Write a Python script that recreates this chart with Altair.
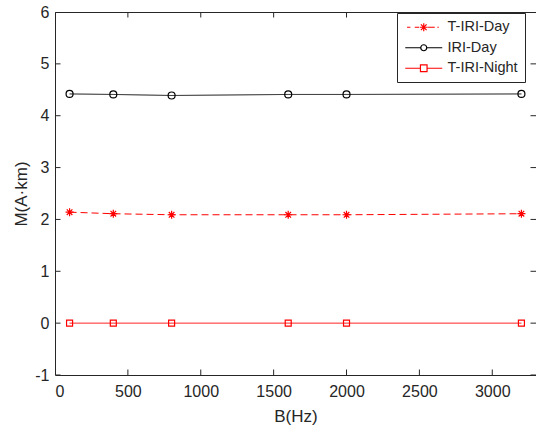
import altair as alt
import pandas as pd

# ---- data ----
B = [100, 400, 800, 1600, 2000, 3200]
t_iri_day = [2.14, 2.11, 2.09, 2.09, 2.09, 2.11]
iri_day = [4.42, 4.41, 4.39, 4.41, 4.41, 4.42]
t_iri_night = [0.0, 0.0, 0.0, 0.0, 0.0, 0.0]

series = ["T-IRI-Day", "IRI-Day", "T-IRI-Night"]
colors = ["#ff0000", "#000000", "#ff0000"]
x_ticks = [0, 500, 1000, 1500, 2000, 2500, 3000]
y_ticks = [-1, 0, 1, 2, 3, 4, 5, 6]
x_domain = [0, 3300]
y_domain = [-1, 6]

rows = []
for name, vals in zip(series, [t_iri_day, iri_day, t_iri_night]):
    for b, v in zip(B, vals):
        rows.append({"B": b, "M": v, "series": name})
df = pd.DataFrame(rows)

W, H = 481, 363
AX = "#262626"
FONT = "Liberation Sans"

x_scale = alt.Scale(domain=x_domain, nice=False, zero=False)
y_scale = alt.Scale(domain=y_domain, nice=False, zero=False)
color_scale = alt.Scale(domain=series, range=colors)

x_axis = alt.Axis(values=x_ticks, tickSize=0, domain=False, grid=False,
                  labelExpr="'' + datum.value",
                  labelFontSize=16, labelPadding=8, labelFont=FONT, labelColor=AX,
                  title="B(Hz)", titleFont=FONT, titleFontSize=17, titleFontWeight="normal",
                  titleColor=AX, titleX=W / 2, titleY=46.5, titleBaseline="alphabetic")
y_axis = alt.Axis(values=y_ticks, tickSize=0, domain=False, grid=False,
                  labelExpr="'' + datum.value",
                  labelFontSize=16, labelPadding=6, labelFont=FONT, labelColor=AX,
                  title="M(A·km)", titleFont=FONT, titleFontSize=17, titleFontWeight="normal",
                  titleColor=AX, titleX=-29, titleY=H / 2, titleBaseline="alphabetic",
                  titleAngle=270)

ASTERISK = "M-1,0L1,0M0,-1L0,1M-0.7,-0.7L0.7,0.7M-0.7,0.7L0.7,-0.7"
marker_shape = {"T-IRI-Day": ASTERISK, "IRI-Day": "circle", "T-IRI-Night": "square"}
marker_size = {"T-IRI-Day": 64, "IRI-Day": 49, "T-IRI-Night": 36}
line_dash = {"T-IRI-Day": [7, 4], "IRI-Day": [1, 0], "T-IRI-Night": [1, 0]}

legend_paths = [
    "M-3.34,0L-2.68,0M-1.8,0L-0.94,0M0.86,0L2.2,0M2.72,0L3.0,0"
    "M-0.8,0L0.8,0M0,-0.8L0,0.8M-0.57,-0.57L0.57,0.57M-0.57,0.57L0.57,-0.57",
    "M-3.7,0L-0.6,0M0.6,0L3.7,0M-0.6,0A0.6,0.6 0 1,0 0.6,0A0.6,0.6 0 1,0 -0.6,0",
    "M-3.7,0L-0.66,0M0.66,0L3.7,0M-0.66,-0.66L0.66,-0.66L0.66,0.66L-0.66,0.66Z",
]

X = alt.X("B:Q", scale=x_scale, axis=x_axis)
Y = alt.Y("M:Q", scale=y_scale, axis=y_axis)

base = alt.Chart(df)

layers = []
for name, c in zip(series, colors):
    sub = base.transform_filter(alt.datum.series == name)
    layers.append(
        sub.mark_line(strokeWidth=1, color=c, strokeDash=line_dash[name], clip=True)
        .encode(x=X, y=Y)
    )
    layers.append(
        sub.mark_point(shape=marker_shape[name], size=marker_size[name], filled=False,
                       color=c, opacity=1, strokeWidth=1.2, clip=True)
        .encode(x=X, y=Y)
    )

leg = alt.Legend(title=None, orient="none", legendX=342, legendY=1, padding=7,
                 symbolSize=100, symbolOffset=12.5, labelOffset=16.5,
                 labelFontSize=14.5, labelFont=FONT, labelColor=AX,
                 strokeColor=AX, fillColor="white", rowPadding=5.5,
                 symbolStrokeWidth=1.2, symbolFillColor="transparent", labelLimit=300)

legend_layer = base.transform_filter("false").mark_point(filled=False, opacity=1, strokeWidth=1.2).encode(
    x=X, y=Y,
    color=alt.Color("series:N", scale=color_scale, legend=leg),
    shape=alt.Shape("series:N", scale=alt.Scale(domain=series, range=legend_paths), legend=leg),
)

xt = pd.DataFrame({"B": x_ticks})
yt = pd.DataFrame({"M": y_ticks})
tick_kw = dict(size=11, thickness=1, color=AX, opacity=1, clip=True)
xtick_bottom = alt.Chart(xt).mark_tick(orient="vertical", **tick_kw).encode(x=X, y=alt.value(H))
xtick_top = alt.Chart(xt).mark_tick(orient="vertical", **tick_kw).encode(x=X, y=alt.value(0))
ytick_left = alt.Chart(yt).mark_tick(orient="horizontal", **tick_kw).encode(y=Y, x=alt.value(0))
ytick_right = alt.Chart(yt).mark_tick(orient="horizontal", **tick_kw).encode(y=Y, x=alt.value(W))

chart = alt.layer(
    *layers, xtick_bottom, xtick_top, ytick_left, ytick_right, legend_layer
).properties(
    width=W, height=H,
    autosize=alt.AutoSizeParams(type="none"),
    padding={"left": 55, "top": 12, "right": 0, "bottom": 52},
    background="white",
).configure_view(stroke=AX, strokeWidth=1)

chart.save("out.html", embed_options={"renderer": "svg", "actions": False})
